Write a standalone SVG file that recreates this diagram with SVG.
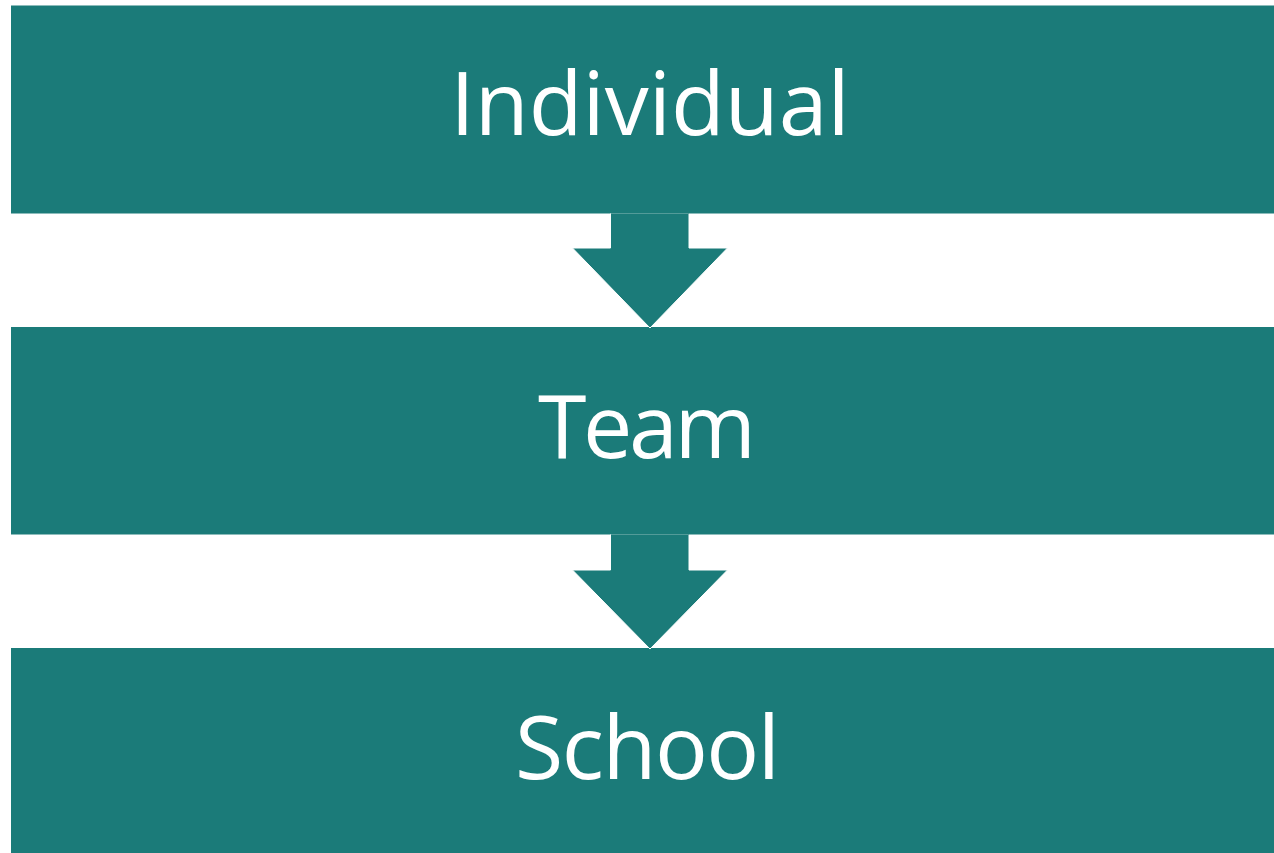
<svg xmlns="http://www.w3.org/2000/svg" width="1274" height="853" viewBox="0 0 1274 853">
  <style>
    .box { fill: #1B7B79; }
    .arrow { fill: #1B7B79; stroke: #ffffff; stroke-width: 1; }
    .label { fill: #ffffff; font-family: "Open Sans", "Noto Sans", sans-serif; font-size: 88px; }
  </style>
  <rect width="1274" height="853" fill="#ffffff"/>
  <g id="node-individual">
    <rect class="box" x="11" y="5.5" width="1263" height="208"/>
    <text class="label" x="650" y="135" text-anchor="middle">Individual</text>
  </g>
  <g id="node-team">
    <rect class="box" x="11" y="327" width="1263" height="207.5"/>
    <text class="label" x="538" y="458" textLength="218" lengthAdjust="spacing">Team</text>
  </g>
  <g id="node-school">
    <rect class="box" x="11" y="648" width="1263" height="205"/>
    <text class="label" x="515" y="779" textLength="265" lengthAdjust="spacing">School</text>
  </g>
  <g id="connectors">
    <path class="arrow" d="M610.5,213.5 L689,213.5 L689,248 L727.5,248 L650,328 L572.5,248 L610.5,248 Z" stroke-dasharray="0 79 1000"/>
    <path class="arrow" d="M610.5,534.5 L689,534.5 L689,570 L727.5,570 L650,649 L572.5,570 L610.5,570 Z" stroke-dasharray="0 79 1000"/>
  </g>
</svg>
